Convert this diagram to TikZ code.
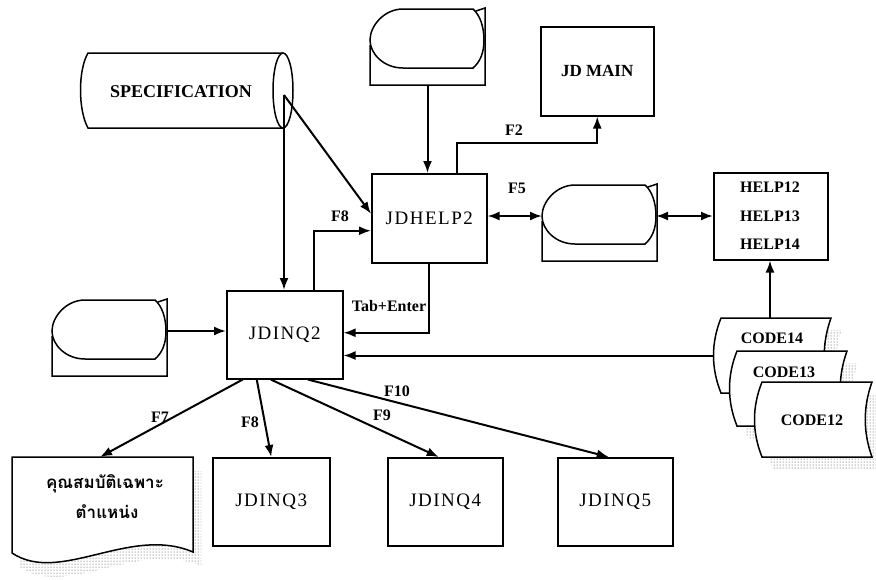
\documentclass[tikz,border=0pt]{standalone}
\usepackage{fontspec}
\setmainfont{Liberation Serif}
\newfontfamily\boxfont{Liberation Serif}[LetterSpace=8]
\newfontfamily\thaifont[Script=Thai]{Loma}
\usetikzlibrary{arrows.meta,patterns,calc}
\tikzset{
  box/.style={draw,line width=1.5pt,anchor=north west,inner sep=0pt},
  arr/.style={line width=2pt,-{Latex[length=12pt,width=9pt]}},
  darr/.style={line width=2pt,{Latex[length=12pt,width=9pt]}-{Latex[length=12pt,width=9pt]}},
  lbl/.style={font=\bfseries\fontsize{16}{19}\selectfont,inner sep=0pt},
  bigtxt/.style={font=\boxfont\fontsize{19}{22}\selectfont},
  boldtxt/.style={font=\bfseries\fontsize{16}{19}\selectfont},
  outl/.style={line width=1.5pt},
  shadowfill/.style={pattern=dots,pattern color=black!75},
  disp/.pic={
    \draw[outl,fill=white] (106,2) -- (115,-1) -- (115,76) -- (0,76) -- (0,36);
    \draw[outl,fill=white] (33,0) -- (103,0) .. controls (110,6) and (114,18) .. (114,31) .. controls (114,44) and (110,53) .. (103,59) -- (33,59) .. controls (14,59) and (0,45) .. (0,31) .. controls (0,17) and (14,0) .. (33,0) -- cycle;
    \coordinate (-L) at (0,31);
    \coordinate (-R) at (114,31);
    \coordinate (-B) at (57.5,76);
  },
  codeshape/.pic={
    \fill[shadowfill] (11,12) -- (121,12) .. controls (112,37) and (112,62) .. (121,87) -- (11,87) .. controls (1,62) and (1,37) .. (11,12) -- cycle;
    \draw[outl,fill=white] (0,0) -- (110,0) .. controls (101,25) and (101,50) .. (110,75) -- (0,75) .. controls (-10,50) and (-10,25) .. (0,0) -- cycle;
    \coordinate (-L) at (-7.5,37.5);
    \coordinate (-T) at (49,0);
  },
}
\begin{document}
\begin{tikzpicture}[x=1pt,y=-1pt]
\useasboundingbox (0,0) rectangle (876,579);
\fill[white] (0,0) rectangle (876,579);

% SPECIFICATION store
\draw[outl] (283,53) -- (88,53) .. controls (78,70) and (78,110) .. (88,128) -- (283,128);
\draw[outl] (283,90.5) ellipse [x radius=10, y radius=37.5];
\node[font=\bfseries\fontsize{18}{21}\selectfont] (spec) at (181,92) {SPECIFICATION};
\coordinate (specport) at (284,95);

% displays
\pic (d1) at (370,9) {disp};
\pic (d2) at (542,185) {disp};
\pic (d3) at (52,300) {disp};

% boxes
\node[box,bigtxt,minimum width=115pt,minimum height=89pt] (jdhelp) at (371,173) {JDHELP2};
\node[box,font=\bfseries\fontsize{17}{20}\selectfont,minimum width=113pt,minimum height=89pt] (jdmain) at (540,26) {JD MAIN};
\node[box,minimum width=114pt,minimum height=87pt] (help) at (713,172) {};
\node[align=center,font=\bfseries\fontsize{16}{28.5}\selectfont] (helpt) at (770,216) {HELP12\\HELP13\\HELP14};
\node[box,bigtxt,minimum width=116pt,minimum height=88pt] (jdinq2) at (226,290) {JDINQ2};
\node[box,bigtxt,minimum width=117pt,minimum height=88pt] (jdinq3) at (212,457) {JDINQ3};
\node[box,bigtxt,minimum width=115pt,minimum height=88pt] (jdinq4) at (387,457) {JDINQ4};
\node[box,bigtxt,minimum width=115pt,minimum height=88pt] (jdinq5) at (557,457) {JDINQ5};

% document
\fill[shadowfill] (20,471) -- (201,471) -- (201,566) .. controls (138,539) and (68,599) .. (20,567) -- cycle;
\draw[outl,fill=white] (12,457) -- (193,457) -- (193,552) .. controls (130,525) and (60,585) .. (12,553) -- cycle;
\coordinate (doctop) at (100,457);
\node[font=\thaifont\bfseries\fontsize{17}{20}\selectfont] (th1) at (105,484) {คุณสมบัติเฉพาะ};
\node[font=\thaifont\bfseries\fontsize{17}{20}\selectfont] (th2) at (107,512) {ตำแหน่ง};

% code stores
\pic (c14) at (721,318) {codeshape};
\pic (c13) at (737,351) {codeshape};
\pic (c12) at (762,382) {codeshape};
\node[boldtxt] (c14t) at (772,338) {CODE14};
\node[boldtxt] (c13t) at (784,372) {CODE13};
\node[boldtxt] (c12t) at (812,420) {CODE12};

% connectors
\draw[arr] (specport) -- ([yshift=4.5pt]jdhelp.west);
\draw[arr] (specport) -- (specport |- jdinq2.north);
\draw[arr] (d1-B) -- (d1-B |- jdhelp.north);
\draw[arr] ([xshift=28pt]jdhelp.north) -- ++(0,-30) -| (jdmain.south);
\node[lbl] (f2) at (514,130) {F2};
\draw[darr] (jdhelp.east |- d2-L) -- (d2-L);
\node[lbl] (f5) at (517,188) {F5};
\draw[darr] (d2-R) -- (d2-R -| help.west);
\draw[arr] (c14-T) -- (c14-T |- help.south);
\draw[arr] ([xshift=29pt]jdinq2.north) |- ([yshift=-12.5pt]jdhelp.west);
\node[lbl] (f8a) at (340,216) {F8};
\draw[arr] (jdhelp.south) |- ([yshift=2pt]jdinq2.east);
\node[lbl] (tab) at (389,306) {Tab+Enter};
\draw[arr] (c14-L) -- (c14-L -| jdinq2.east);
\draw[arr] (d3-R) -- (d3-R -| jdinq2.west);

\draw[arr] ([xshift=-42pt]jdinq2.south) -- (doctop);
\node[lbl] (f7) at (160,417) {F7};
\draw[arr] ([xshift=-28pt]jdinq2.south) -- (jdinq3.north);
\node[lbl] (f8b) at (250,422) {F8};
\draw[arr] ([xshift=-14pt]jdinq2.south) -- ([xshift=-6.5pt]jdinq4.north);
\node[lbl] (f9) at (382,415) {F9};
\draw[arr] ([xshift=23pt]jdinq2.south) -- ([xshift=-6.5pt]jdinq5.north);
\node[lbl] (f10) at (397,391) {F10};
\end{tikzpicture}
\end{document}
